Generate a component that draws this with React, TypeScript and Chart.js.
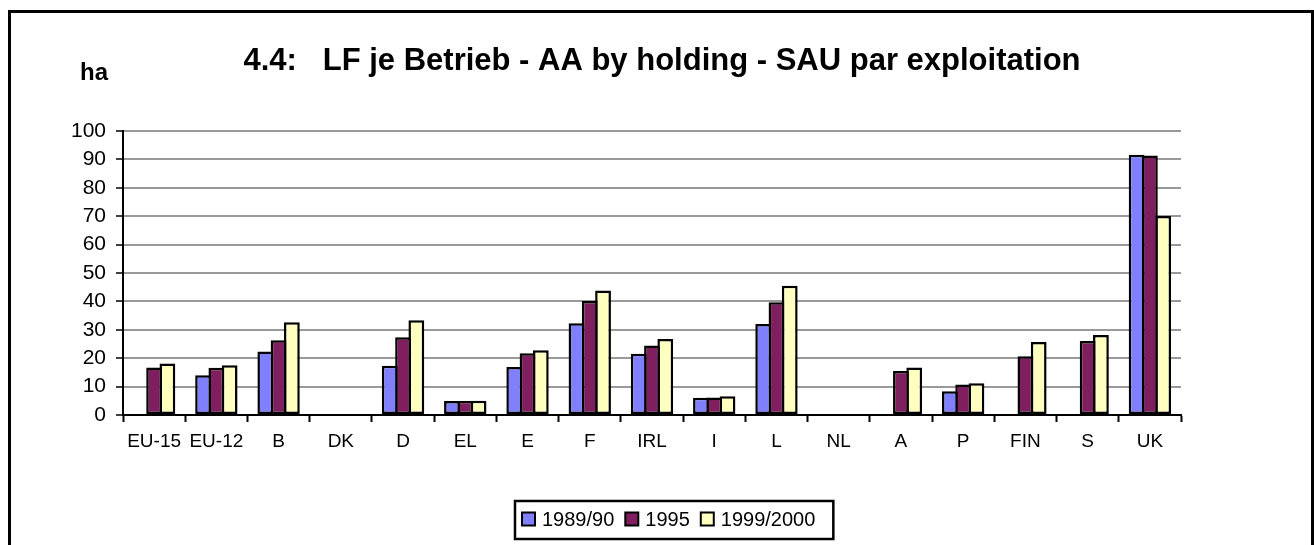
import React, { useEffect, useRef } from 'react';
import { Chart, registerables } from 'chart.js';

Chart.register(...registerables);

const categories = ['EU-15', 'EU-12', 'B', 'DK', 'D', 'EL', 'E', 'F', 'IRL', 'I', 'L', 'NL', 'A', 'P', 'FIN', 'S', 'UK'];
const seriesLabels = ['1989/90', '1995', '1999/2000'];
const values1989 = [null, 14.0, 22.4, null, 17.3, 4.9, 16.9, 32.3, 21.6, 6.1, 32.0, null, null, 8.4, null, null, 91.6];
const values1995 = [16.7, 16.6, 26.3, null, 27.4, 4.9, 21.7, 40.1, 24.5, 6.2, 39.7, null, 15.5, 10.7, 20.7, 26.1, 91.4];
const values1999 = [18.1, 17.5, 32.7, null, 33.4, 5.0, 22.8, 43.8, 26.8, 6.6, 45.5, null, 16.7, 11.2, 25.7, 28.2, 70.1];
const yTickLabels = ['0', '10', '20', '30', '40', '50', '60', '70', '80', '90', '100'];
const titleText = '4.4:   LF je Betrieb - AA by holding - SAU par exploitation';
const unitText = 'ha';

const seriesColors = ['#8080FF', '#7F1F5F', '#FFFFC0'];
const FONT = '"Liberation Sans", Arial, Helvetica, sans-serif';

const W = 1300;
const H = 532;

const decorPlugin = {
  id: 'decor',
  afterDraw(chart: any) {
    const ctx = chart.ctx as CanvasRenderingContext2D;
    ctx.save();
    ctx.fillStyle = '#000';
    // title
    ctx.font = `bold 31px ${FONT}`;
    ctx.textAlign = 'center';
    ctx.textBaseline = 'alphabetic';
    ctx.fillText(titleText, 651, 57);
    // unit
    ctx.font = `bold 24px ${FONT}`;
    ctx.textAlign = 'left';
    ctx.fillText(unitText, 69, 67);
    // legend
    ctx.font = `20px ${FONT}`;
    ctx.textBaseline = 'middle';
    let x = 511;
    const yc = 506;
    chart.data.datasets.forEach((ds: any, i: number) => {
      ctx.fillStyle = ds.backgroundColor;
      ctx.fillRect(x, yc - 6.5, 13, 13);
      ctx.strokeStyle = '#000';
      ctx.lineWidth = 2;
      ctx.strokeRect(x, yc - 6.5, 13, 13);
      x += 13 + 7;
      ctx.fillStyle = '#000';
      ctx.fillText(ds.label, x, yc + 1);
      x += ctx.measureText(ds.label).width;
      if (i < chart.data.datasets.length - 1) x += 11;
    });
    ctx.lineWidth = 2.5;
    ctx.strokeStyle = '#000';
    ctx.strokeRect(504, 488, x + 18 - 504, 38);
    ctx.restore();
  },
};

export default function App() {
  const ref = useRef<HTMLCanvasElement | null>(null);
  useEffect(() => {
    document.documentElement.style.overflow = 'hidden';
    document.body.style.overflow = 'hidden';
    if (!ref.current) return;
    const chart = new Chart(ref.current, {
      type: 'bar',
      data: {
        labels: categories,
        datasets: [values1989, values1995, values1999].map((vals, i) => ({
          label: seriesLabels[i],
          data: vals,
          backgroundColor: seriesColors[i],
          borderColor: '#000',
          borderWidth: 2.5,
          borderSkipped: false,
          categoryPercentage: 0.64,
          barPercentage: 1.19,
        })),
      },
      options: {
        responsive: false,
        animation: false,
        layout: { padding: { top: 118, bottom: 86, left: 0, right: 130 } },
        plugins: {
          legend: { display: false },
          title: { display: false },
          tooltip: { enabled: false },
        },
        scales: {
          x: {
            grid: {
              offset: true,
              drawOnChartArea: false,
              drawTicks: true,
              tickLength: 7,
              tickColor: '#000',
              tickWidth: 2,
            },
            border: { color: '#000', width: 2 },
            ticks: {
              color: '#000',
              font: { family: FONT, size: 19 },
              padding: 8,
              maxRotation: 0,
              autoSkip: false,
            },
            afterFit: (s: any) => {
              s.height = 44;
            },
          },
          y: {
            min: 0,
            max: 100,
            ticks: {
              stepSize: 10,
              color: '#000',
              font: { family: FONT, size: 21 },
              padding: 10,
              callback: (_v: any, i: number) => yTickLabels[i],
            },
            grid: {
              color: '#999',
              lineWidth: 2,
              tickColor: '#000',
              tickLength: 7,
              tickWidth: 1.5,
            },
            border: { color: '#000', width: 2 },
            afterFit: (s: any) => {
              s.width = 112;
            },
          },
        },
      },
      plugins: [decorPlugin],
    });
    return () => chart.destroy();
  }, []);

  return (
    <div
      style={{
        position: 'fixed',
        left: 8,
        top: 10,
        width: 1306,
        height: 560,
        border: '3px solid #000',
        boxSizing: 'border-box',
        background: '#fff',
      }}
    >
      <canvas ref={ref} width={W} height={H} style={{ display: 'block', width: W, height: H }} />
    </div>
  );
}
